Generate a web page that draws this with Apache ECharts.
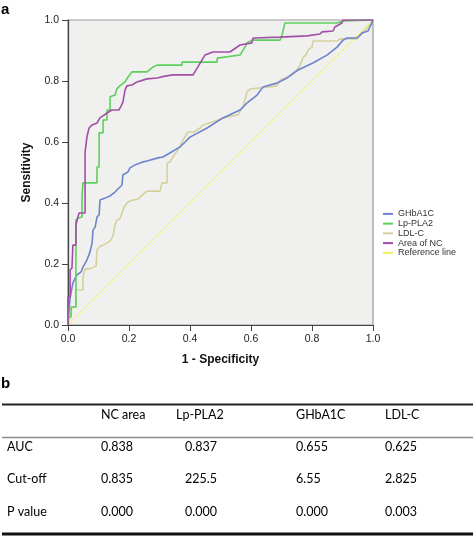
<!DOCTYPE html>
<html><head><meta charset="utf-8">
<script src="https://cdn.jsdelivr.net/npm/echarts@6/dist/echarts.min.js"></script>
<style>html,body{margin:0;padding:0;background:#fff}#c{width:473px;height:537px}</style>
</head><body><div id="c"></div>
<script>
// ---- data ----
const seriesNames = ['GHbA1C', 'Lp-PLA2', 'LDL-C', 'Area of NC', 'Reference line'];

const ghbFpr = [0,0,0.007,0.016,0.029,0.043,0.049,0.062,0.072,0.079,0.082,0.089,0.095,0.102,0.105,0.121,0.138,0.154,0.177,0.180,0.197,0.203,0.220,0.243,0.259,0.295,0.311,0.334,0.367,0.384,0.400,0.456,0.508,0.564,0.587,0.620,0.639,0.685,0.718,0.754,0.803,0.849,0.882,0.902,0.915,0.948,0.964,0.974,0.984,0.990,0.997,1.0];
const ghbTpr = [0,0.016,0.089,0.138,0.164,0.174,0.190,0.213,0.239,0.269,0.311,0.321,0.354,0.361,0.410,0.416,0.423,0.436,0.459,0.492,0.502,0.515,0.525,0.534,0.538,0.548,0.551,0.564,0.584,0.600,0.616,0.646,0.679,0.705,0.728,0.754,0.780,0.793,0.810,0.836,0.859,0.885,0.911,0.934,0.941,0.941,0.957,0.961,0.964,0.977,0.993,1.0];

const lpFpr = [0,0,0.01,0.01,0.026,0.026,0.033,0.046,0.046,0.049,0.049,0.095,0.095,0.102,0.102,0.115,0.115,0.128,0.128,0.138,0.138,0.154,0.160,0.170,0.187,0.197,0.210,0.259,0.259,0.279,0.292,0.374,0.374,0.489,0.489,0.564,0.580,0.587,0.603,0.695,0.702,0.711,0.882,0.902,1.0];
const lpTpr = [0,0.026,0.026,0.059,0.059,0.344,0.351,0.354,0.420,0.420,0.466,0.466,0.518,0.518,0.630,0.630,0.672,0.672,0.705,0.705,0.748,0.754,0.774,0.784,0.797,0.813,0.830,0.830,0.836,0.846,0.852,0.852,0.862,0.862,0.875,0.885,0.911,0.925,0.934,0.934,0.951,0.990,0.990,0.997,1.0];

const ldlFpr = [0,0,0.007,0.013,0.026,0.026,0.049,0.049,0.056,0.072,0.075,0.092,0.095,0.102,0.115,0.138,0.148,0.154,0.161,0.170,0.177,0.184,0.193,0.203,0.230,0.243,0.259,0.302,0.308,0.325,0.325,0.334,0.344,0.367,0.374,0.393,0.413,0.433,0.443,0.492,0.508,0.557,0.574,0.587,0.597,0.652,0.685,0.695,0.728,0.738,0.751,0.761,0.770,0.784,0.787,0.800,0.803,0.882,0.892,0.948,0.964,0.974,0.984,0.997,1.0];
const ldlTpr = [0,0.007,0.026,0.059,0.059,0.115,0.115,0.157,0.184,0.184,0.190,0.193,0.246,0.256,0.262,0.275,0.292,0.328,0.344,0.348,0.367,0.387,0.400,0.407,0.413,0.426,0.439,0.439,0.466,0.466,0.531,0.534,0.551,0.584,0.600,0.633,0.633,0.646,0.656,0.672,0.679,0.689,0.715,0.764,0.774,0.780,0.784,0.803,0.816,0.826,0.836,0.852,0.875,0.892,0.902,0.911,0.931,0.931,0.938,0.938,0.957,0.967,0.977,0.993,1.0];

const ncFpr = [0,0,0.007,0.007,0.013,0.016,0.026,0.026,0.036,0.056,0.056,0.062,0.069,0.079,0.095,0.105,0.128,0.144,0.167,0.174,0.180,0.187,0.193,0.210,0.226,0.259,0.292,0.318,0.344,0.410,0.449,0.475,0.531,0.564,0.603,0.607,0.695,0.784,0.826,0.833,0.869,0.875,0.898,0.902,1.0];
const ncTpr = [0,0.092,0.092,0.180,0.187,0.262,0.262,0.328,0.367,0.367,0.567,0.616,0.646,0.656,0.662,0.679,0.695,0.705,0.705,0.718,0.731,0.770,0.784,0.787,0.797,0.807,0.810,0.816,0.820,0.820,0.885,0.895,0.895,0.918,0.925,0.941,0.944,0.948,0.954,0.961,0.964,0.977,0.990,1.0,1.0];

const refFpr = [0, 1];
const refTpr = [0, 1];

const axisTicks = ['0.0', '0.2', '0.4', '0.6', '0.8', '1.0'];

const tableHeaders = ['NC area', 'Lp-PLA2', 'GHbA1C', 'LDL-C'];
const tableRowLabels = ['AUC', 'Cut-off', 'P value'];
const colNcArea = ['0.838', '0.835', '0.000'];
const colLpPla2 = ['0.837', '225.5', '0.000'];
const colGhba1c = ['0.655', '6.55', '0.000'];
const colLdlc = ['0.625', '2.825', '0.003'];

// ---- build ----
const pairs = (xs, ys) => xs.map((x, i) => [x, ys[i]]);
const colors = ['#6f82cf', '#5fcf5f', '#d6d19c', '#a24ea6', '#f2f25a'];
const curves = [
  [ghbFpr, ghbTpr], [lpFpr, lpTpr], [ldlFpr, ldlTpr], [ncFpr, ncTpr], [refFpr, refTpr]
];
const drawOrder = [4, 2, 0, 1, 3];
const series = drawOrder.map(i => ({
  name: seriesNames[i],
  type: 'line',
  data: pairs(curves[i][0], curves[i][1]),
  showSymbol: false,
  symbol: 'none',
  silent: true,
  animation: false,
  lineStyle: { color: colors[i], width: i === 4 ? 1 : 1.6 },
  itemStyle: { color: colors[i] },
  z: 3 + drawOrder.indexOf(i)
}));

const tableFont = 'Lato';
const tableSize = 12.5;
const tableColor = '#000';
const colX = [101, 176, 296, 385];
const valX = [101, 185, 296, 385];
const rowY = [447, 479, 512];
const cols = [colNcArea, colLpPla2, colGhba1c, colLdlc];
const graphic = [
  { type: 'text', x: 1, y: 10, style: { text: 'a', fontSize: 15, fontWeight: 'bold', fontFamily: 'Liberation Sans', fill: '#000', textVerticalAlign: 'middle' } },
  { type: 'text', x: 1, y: 384, style: { text: 'b', fontSize: 15, fontWeight: 'bold', fontFamily: 'Liberation Sans', fill: '#000', textVerticalAlign: 'middle' } },
  { type: 'line', shape: { x1: 2, y1: 404.5, x2: 473, y2: 404.5 }, style: { stroke: '#222', lineWidth: 2 } },
  { type: 'line', shape: { x1: 2, y1: 437.5, x2: 473, y2: 437.5 }, style: { stroke: '#8a8a8a', lineWidth: 1.5 } },
  { type: 'line', shape: { x1: 2, y1: 534, x2: 473, y2: 534 }, style: { stroke: '#111', lineWidth: 3 } }
];
tableHeaders.forEach((h, j) => graphic.push({ type: 'text', x: colX[j], y: 415, style: { text: h, fontSize: tableSize, fontFamily: tableFont, fill: tableColor, textVerticalAlign: 'middle' } }));
tableRowLabels.forEach((r, i) => {
  graphic.push({ type: 'text', x: 7, y: rowY[i], style: { text: r, fontSize: tableSize, fontFamily: tableFont, fill: tableColor, textVerticalAlign: 'middle' } });
  cols.forEach((c, j) => graphic.push({ type: 'text', x: valX[j], y: rowY[i], style: { text: c[i], fontSize: tableSize, fontFamily: tableFont, fill: tableColor, textVerticalAlign: 'middle' } }));
});

const chart = echarts.init(document.getElementById('c'), null, { renderer: 'canvas' });
const axisCommon = {
  type: 'value', min: 0, max: 1, interval: 0.2,
  splitLine: { show: false },
  axisLine: { show: true, lineStyle: { color: '#444', width: 1.2 } },
  axisTick: { show: true, length: 6, lineStyle: { color: '#444' } },
  axisLabel: { color: '#222', fontSize: 10.5, fontFamily: 'Liberation Sans', formatter: v => axisTicks[Math.round(v / 0.2)] },
  nameLocation: 'middle',
  nameTextStyle: { fontSize: 12, fontWeight: 'bold', fontFamily: 'Liberation Sans', color: '#111' }
};
chart.setOption({
  animation: false,
  backgroundColor: '#fff',
  grid: { left: 68, right: 100, top: 20, bottom: 212, show: true, backgroundColor: '#f0f0ee', borderColor: '#999', borderWidth: 1.2 },
  xAxis: Object.assign({}, axisCommon, { name: '1 - Specificity', nameGap: 29, axisLabel: Object.assign({}, axisCommon.axisLabel, { margin: 9 }) }),
  yAxis: Object.assign({}, axisCommon, { name: 'Sensitivity', nameGap: 35, axisLabel: Object.assign({}, axisCommon.axisLabel, { margin: 9 }) }),
  legend: {
    orient: 'vertical', left: 383, top: 209, padding: 0,
    data: seriesNames,
    icon: 'rect', itemWidth: 10, itemHeight: 2, itemGap: 0,
    selectedMode: false,
    textStyle: { fontSize: 9, lineHeight: 9.75, color: '#333', fontFamily: 'Liberation Sans' }
  },
  series: series,
  graphic: graphic
});
</script></body></html>
